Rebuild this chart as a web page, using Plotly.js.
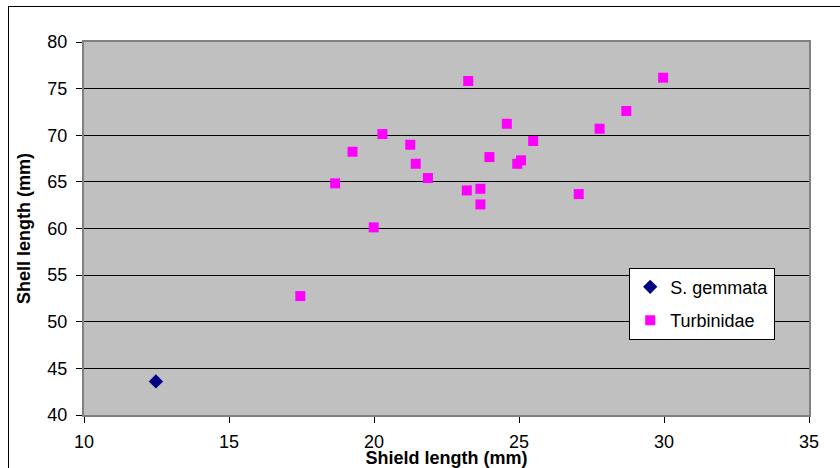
<!DOCTYPE html>
<html>
<head>
<meta charset="utf-8">
<script src="https://cdn.plot.ly/plotly-3.0.1.min.js"></script>
<style>
  html, body { margin: 0; padding: 0; background: #ffffff; }
  #frame { position: absolute; left: 8px; top: 6px; width: 900px; height: 600px; border: 1px solid #000; box-sizing: border-box; }
  #chart { position: absolute; left: 0; top: 0; width: 840px; height: 468px; }
</style>
</head>
<body>
<div id="frame"></div>
<div id="chart"></div>
<script>
// S. gemmata series
const gemmataX = [12.48];
const gemmataY = [43.6];

// Turbinidae series
const turbX = [17.46, 18.66, 19.26, 20.29, 19.99, 21.25, 21.44, 21.86, 23.20, 23.67, 23.67, 23.98, 23.25, 24.58, 25.49, 24.94, 25.07, 27.06, 27.78, 28.70, 29.97];
const turbY = [52.75, 64.84, 68.23, 70.13, 60.12, 68.98, 66.94, 65.41, 64.08, 64.26, 62.58, 67.66, 75.82, 71.23, 69.38, 66.94, 67.31, 63.69, 70.70, 72.60, 76.17];

const xTicks = [10, 15, 20, 25, 30, 35];
const yTicks = [40, 45, 50, 55, 60, 65, 70, 75, 80];

const font = 'Liberation Sans, Arial, sans-serif';

const traces = [
  { x: gemmataX, y: gemmataY, type: 'scatter', mode: 'markers', name: 'S. gemmata', legendgroup: 'a',
    marker: { symbol: 'diamond', size: 11, color: '#000080' } },
  { x: turbX, y: turbY, type: 'scatter', mode: 'markers', name: 'Turbinidae', legendgroup: 'b',
    marker: { symbol: 'square', size: 10, color: '#FF00FF' } }
];

const layout = {
  width: 840, height: 468,
  margin: { l: 84, r: 31, t: 42, b: 53 },
  paper_bgcolor: 'rgba(0,0,0,0)',
  plot_bgcolor: '#C0C0C0',
  font: { family: font, color: '#000', size: 18 },
  showlegend: true,
  legend: {
    x: 0.752, y: 0.395, xanchor: 'left', yanchor: 'top',
    bgcolor: '#ffffff', bordercolor: '#000', borderwidth: 1,
    font: { family: font, size: 18, color: '#000' },
    traceorder: 'grouped', tracegroupgap: 7, itemwidth: 30
  },
  xaxis: {
    range: [10, 35], tickvals: xTicks, ticktext: xTicks.map(String),
    ticks: 'outside', ticklen: 6, tickcolor: '#000', tickwidth: 1,
    showgrid: false, zeroline: false,
    showline: true, linecolor: '#808080', linewidth: 2, mirror: true,
    tickfont: { family: font, size: 18, color: '#000' },
    ticklabelstandoff: 3,
    title: { text: '<b>Shield length (mm)</b>', font: { family: font, size: 18, color: '#000' }, standoff: 0 },
    automargin: false
  },
  yaxis: {
    range: [40, 80], tickvals: yTicks, ticktext: yTicks.map(String),
    ticks: 'outside', ticklen: 6, tickcolor: '#000', tickwidth: 1,
    showgrid: true, gridcolor: '#000', gridwidth: 1, zeroline: false,
    showline: true, linecolor: '#808080', linewidth: 2, mirror: true,
    tickfont: { family: font, size: 18, color: '#000' },
    ticklabelstandoff: 5,
    title: { text: '<b>Shell length (mm)</b>', font: { family: font, size: 18, color: '#000' }, standoff: 12 },
    automargin: false
  }
};

Plotly.newPlot('chart', traces, layout, { displayModeBar: false, staticPlot: true });
</script>
</body>
</html>
